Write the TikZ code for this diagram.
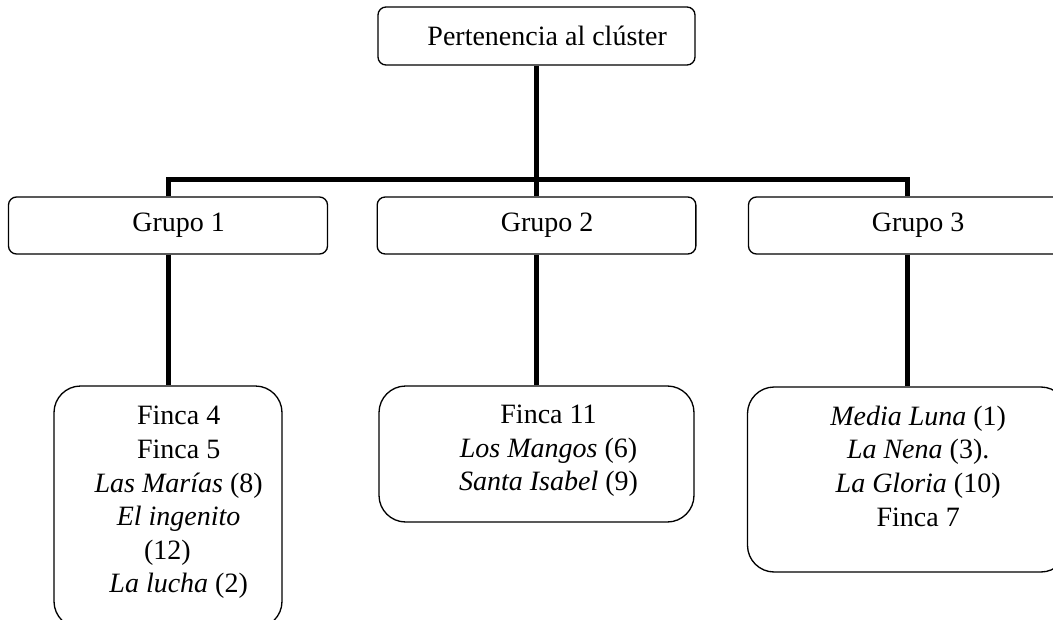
\documentclass[tikz,border=0pt]{standalone}
\usepackage{fontspec}
\setmainfont{Liberation Serif}
\usetikzlibrary{positioning}

\begin{document}
\begin{tikzpicture}[
    x=0.75pt, y=0.75pt,
    font=\fontsize{21}{25.2}\selectfont,
    caja/.style={draw, line width=1pt, rounded corners=6pt, minimum height=42.75pt, inner sep=0pt, execute at begin node={\hspace*{16pt}}},
    finca/.style={draw, line width=1pt, rounded corners=20pt, inner sep=0pt},
    lista/.style={align=center, inner sep=0pt},
    rama/.style={line width=3.75pt}
]
    \useasboundingbox (0,0) rectangle (1053,619);
    \clip (0,0) rectangle (1053,619);

    % Cajas de nivel superior
    \node[caja, minimum width=237.75pt, minimum height=43.5pt] (cluster) at (536.5,583) {Pertenencia al clúster};
    \node[caja, minimum width=239.25pt] (g1) at (168,393.5) {Grupo 1};
    \node[caja, minimum width=239pt] (g2) at (536.5,393.5) {Grupo 2};
    \node[caja, minimum width=238.5pt] (g3) at (907.5,393.5) {Grupo 3};

    % Fincas de cada grupo
    \node[finca, minimum width=171pt, minimum height=181.5pt] (f1) at (168,112) {};
    \node[finca, minimum width=236.25pt, minimum height=102pt] (f2) at (536.5,165) {};
    \node[finca, minimum width=240pt, minimum height=138.75pt] (f3) at (907.5,139.5) {};

    \node[lista, below=15.5pt of f1.north, xshift=8pt] (l1) {Finca 4\\Finca 5\\\textit{Las Marías} (8)\\\textit{El ingenito}\\(12)\rule{17pt}{0pt}\\\textit{La lucha} (2)};
    \node[lista, below=14.5pt of f2.north, xshift=9pt] (l2) {Finca 11\\\textit{Los Mangos} (6)\\\textit{Santa Isabel} (9)};
    \node[lista, below=14.5pt of f3.north, xshift=8pt] (l3) {\textit{Media Luna} (1)\\\textit{La Nena} (3).\\\textit{La Gloria} (10)\\Finca 7};

    % Conexiones
    \coordinate (bar) at (0,440);
    \draw[rama] (cluster.south) -- (g2.north);
    \draw[rama] (g1.north) -- (g1.north |- bar) -- (g3.north |- bar) -- (g3.north);
    \draw[rama] (g1.south) -- (f1.north);
    \draw[rama] (g2.south) -- (f2.north);
    \draw[rama] (g3.south) -- (f3.north);

\end{tikzpicture}
\end{document}
